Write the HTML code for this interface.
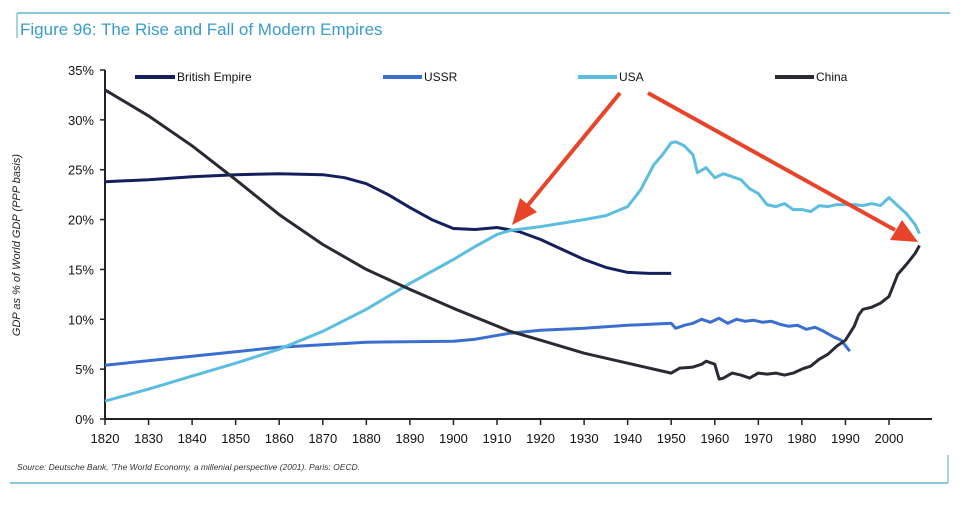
<!DOCTYPE html>
<html><head><meta charset="utf-8">
<style>
body{margin:0;background:#fff;width:963px;height:506px;overflow:hidden;font-family:"Liberation Sans",sans-serif}
svg{position:absolute;left:0;top:0}
</style></head>
<body>
<svg width="963" height="506">
<line x1="17" y1="13" x2="950" y2="13" stroke="#8cc4d8" stroke-width="2"/>
<line x1="17" y1="13" x2="17" y2="38" stroke="#8cc4d8" stroke-width="1.5"/>
<text x="20" y="35" font-size="17" fill="#3a9ccc">Figure 96: The Rise and Fall of Modern Empires</text>
<text transform="translate(20,245) rotate(-90)" text-anchor="middle" font-size="11" font-style="italic" fill="#222">GDP as % of World GDP (PPP basis)</text>
<g id="axes"></g>
<g id="series"></g>
<g font-size="12" fill="#111">
<line x1="135" y1="77" x2="175" y2="77" stroke="#14205e" stroke-width="4"/>
<text x="177" y="81">British Empire</text>
<line x1="383" y1="77" x2="422" y2="77" stroke="#3a6fd0" stroke-width="4"/>
<text x="424" y="81">USSR</text>
<line x1="578" y1="77" x2="617" y2="77" stroke="#5bbde0" stroke-width="4"/>
<text x="619" y="81">USA</text>
<line x1="775" y1="77" x2="814" y2="77" stroke="#2a2a35" stroke-width="4"/>
<text x="816" y="81">China</text>
</g>
<g stroke="#e8442a" stroke-width="4" fill="#e8442a">
<line x1="620" y1="93" x2="528" y2="205"/>
<polygon points="512,225 520,198 537,212" stroke="none"/>
<line x1="648" y1="93" x2="895" y2="230"/>
<polygon points="918,242 890,240 902,220" stroke="none"/>
</g>
<text x="17" y="470" font-size="8.5" font-style="italic" fill="#333">Source: Deutsche Bank, 'The World Economy, a millenial perspective (2001). Paris: OECD.</text>
<line x1="10" y1="483" x2="948" y2="483" stroke="#8cc4d8" stroke-width="2"/>
<line x1="948" y1="455" x2="948" y2="483" stroke="#8cc4d8" stroke-width="1.5"/>
</svg>
<script>
const yTicks=[0,5,10,15,20,25,30,35];
const xTicks=[1820,1830,1840,1850,1860,1870,1880,1890,1900,1910,1920,1930,1940,1950,1960,1970,1980,1990,2000];
const britishYears=[1820,1830,1840,1850,1860,1870,1875,1880,1885,1890,1895,1900,1905,1910,1915,1920,1925,1930,1935,1940,1945,1950];
const britishVals=[23.8,24.0,24.3,24.5,24.6,24.5,24.2,23.6,22.5,21.2,20.0,19.1,19.0,19.2,18.8,18.0,17.0,16.0,15.2,14.7,14.6,14.6];
const ussrYears=[1820,1840,1860,1880,1900,1905,1913,1920,1930,1940,1950,1951,1953,1955,1957,1959,1961,1963,1965,1967,1969,1971,1973,1975,1977,1979,1981,1983,1985,1987,1989,1991];
const ussrVals=[5.4,6.3,7.2,7.7,7.8,8.0,8.6,8.9,9.1,9.4,9.6,9.1,9.4,9.6,10.0,9.7,10.1,9.6,10.0,9.8,9.9,9.7,9.8,9.5,9.3,9.4,9.0,9.2,8.8,8.3,7.9,6.8];
const usaYears=[1820,1830,1840,1850,1860,1870,1880,1890,1900,1905,1910,1913,1920,1930,1935,1940,1943,1946,1948,1950,1951,1953,1955,1956,1958,1960,1962,1964,1966,1968,1970,1972,1974,1976,1978,1980,1982,1984,1986,1988,1990,1992,1994,1996,1998,2000,2002,2004,2006,2007];
const usaVals=[1.8,3.0,4.3,5.6,7.0,8.8,11.0,13.6,16.0,17.3,18.5,18.9,19.3,20.0,20.4,21.3,23.0,25.5,26.5,27.7,27.8,27.4,26.5,24.7,25.2,24.2,24.6,24.3,24.0,23.1,22.6,21.5,21.3,21.6,21.0,21.0,20.8,21.4,21.3,21.5,21.5,21.5,21.4,21.6,21.4,22.2,21.4,20.6,19.5,18.6];
const chinaYears=[1820,1830,1840,1850,1860,1870,1880,1890,1900,1913,1920,1930,1940,1950,1952,1955,1957,1958,1960,1961,1962,1964,1966,1968,1970,1972,1974,1976,1978,1980,1982,1984,1986,1988,1990,1992,1993,1994,1996,1998,2000,2002,2003,2004,2006,2007];
const chinaVals=[33.0,30.4,27.4,24.0,20.5,17.5,15.0,13.0,11.1,8.8,7.9,6.6,5.6,4.6,5.1,5.2,5.5,5.8,5.5,4.0,4.1,4.6,4.4,4.1,4.6,4.5,4.6,4.4,4.6,5.0,5.3,6.0,6.5,7.3,7.9,9.3,10.4,11.0,11.2,11.6,12.3,14.5,15.0,15.5,16.6,17.4];
const NS='http://www.w3.org/2000/svg';
function xs(y){return 105+(y-1820)*(889-105)/180;}
function ys(v){return 419-v*(419-70)/35;}
const axes=document.getElementById('axes');
function mk(tag,attrs,parent){const e=document.createElementNS(NS,tag);for(const k in attrs)e.setAttribute(k,attrs[k]);parent.appendChild(e);return e;}
const yl=mk('line',{x1:105,y1:70,x2:105,y2:419,stroke:'#222','stroke-width':2},axes);


const xl=mk('line',{x1:105,y1:419,x2:932,y2:419,stroke:'#222','stroke-width':2},axes);


yTicks.forEach(t=>{
 const l=mk('line',{x1:100,x2:105,y1:ys(t),y2:ys(t),stroke:'#222','stroke-width':1.5},axes);
 
 
 const tx=mk('text',{x:94,y:ys(t)+5,'text-anchor':'end','font-size':13,fill:'#111'},axes);
 tx.textContent=t+'%';
 
 
});
xTicks.forEach(t=>{
 const l=mk('line',{x1:xs(t),x2:xs(t),y1:419,y2:425,stroke:'#222','stroke-width':1.5},axes);
 
 
 const tx=mk('text',{x:xs(t),y:443,'text-anchor':'middle','font-size':13,fill:'#111'},axes);
 tx.textContent=t;
 
 
});
const sg=document.getElementById('series');
function line(years,vals,color,name){
 const d=years.map((y,i)=>(i?'L':'M')+xs(y).toFixed(1)+','+ys(vals[i]).toFixed(1)).join(' ');
 const p=mk('path',{d:d,fill:'none',stroke:color,'stroke-width':3,'stroke-linejoin':'round'},sg);
 
 
}
line(britishYears,britishVals,'#14205e','british-empire-line');
line(ussrYears,ussrVals,'#3a6fd0','ussr-line');
line(usaYears,usaVals,'#5bbde0','usa-line');
line(chinaYears,chinaVals,'#2a2a35','china-line');
</script>
</body></html>
